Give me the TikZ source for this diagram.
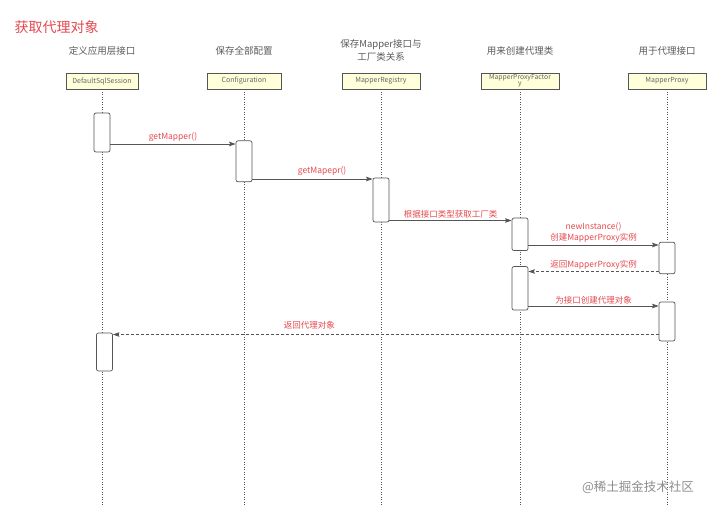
\documentclass[tikz,border=0pt]{standalone}
\usepackage{fontspec}
\setmainfont{Noto Sans CJK SC}
\usetikzlibrary{arrows.meta}
\definecolor{rojo}{HTML}{E4484E}
\definecolor{crema}{HTML}{FFFFDA}
\definecolor{gris}{HTML}{555555}

\begin{document}
\begin{tikzpicture}[x=1pt,y=-1pt,
    cabecera/.style={draw=gris, fill=crema, minimum width=74, minimum height=16, inner sep=0pt, text=black!60, font=\fontsize{7}{7.5}\selectfont},
    rol/.style={text=black!65, font=\fontsize{9.5}{13}\selectfont, align=center},
    activ/.style={draw=gris, fill=white, rounded corners=2pt, line width=0.7pt, minimum width=16, minimum height=#1, inner sep=0pt},
    vida/.style={gris, line width=0.6pt, dash pattern=on 1pt off 1.5pt},
    msg/.style={-{Stealth[length=6.5pt, width=4.5pt, inset=1pt]}, gris, line width=0.7pt},
    ret/.style={msg, dash pattern=on 3pt off 2pt},
    etiqueta/.style={text=rojo, font=\fontsize{8.5}{11}\selectfont, align=center, inner sep=2pt}]
              \useasboundingbox (0,0) rectangle (720,511);

              % Titulo
              \node[anchor=west, text=rojo, font=\fontsize{14}{16}\selectfont] (titulo) at (11,27) {获取代理对象};

              % Roles
              \node[rol] (r1) at (102,51) {定义应用层接口};
              \node[rol] (r2) at (244,51) {保存全部配置};
              \node[rol] (r3) at (381,50.5) {保存Mapper接口与\\工厂类关系};
              \node[rol] (r4) at (520,51) {用来创建代理类};
              \node[rol] (r5) at (667,51) {用于代理接口};

              % Cabeceras
              \node[cabecera, minimum width=72] (dss) at (102,81) {DefaultSqlSession};
              \node[cabecera] (cfg) at (244,81) {Configuration};
              \node[cabecera, minimum width=78] (reg) at (381,81) {MapperRegistry};
              \node[cabecera, minimum width=78, align=center, font=\fontsize{6.8}{6.3}\selectfont] (fac) at (520,81) {MapperProxyFactor\\y};
              \node[cabecera, minimum width=78] (prx) at (667,81) {MapperProxy};

              % Lineas de vida
              \foreach \n in {dss,cfg,reg,fac,prx}
                \draw[vida] (\n.south) -- (\n.south |- 0,505);

              % Activaciones
              \node[activ=39] (a1) at (102,132.5) {};
              \node[activ=41] (a2) at (244,161.3) {};
              \node[activ=44] (a3) at (381,200) {};
              \node[activ=32.5] (a4) at (520,234.3) {};
              \node[activ=31.5] (a5) at (667,258) {};
              \node[activ=43.5] (a6) at (520,288.3) {};
              \node[activ=39] (a7) at (667,321.5) {};
              \node[activ=38] (a8) at (104.5,352) {};

              % Mensajes
              \draw[msg] (a1.east |- 0,144) -- (a2.west |- 0,144) node[etiqueta, midway, above] {getMapper()};
              \draw[msg] (a2.east |- 0,179) -- (a3.west |- 0,179) node[etiqueta, pos=0.58, above, yshift=1pt] {getMapepr()};
              \draw[msg] (a3.east |- 0,220.5) -- (a4.west |- 0,220.5) node[etiqueta, midway, above] {根据接口类型获取工厂类};
              \draw[msg] (a4.east |- 0,245) -- (a5.west |- 0,245) node[etiqueta, midway, above] {newInstance()\\创建MapperProxy实例};
              \draw[ret] (a5.west |- 0,271.5) -- (a6.east |- 0,271.5) node[etiqueta, midway, above] {返回MapperProxy实例};
              \draw[msg] (a6.east |- 0,306) -- (a7.west |- 0,306) node[etiqueta, midway, above, inner sep=1pt] {为接口创建代理对象};
              \draw[ret] (a7.west |- 0,334.5) -- (a8.east |- 0,334.5) node[etiqueta, pos=0.64, above, yshift=3pt] {返回代理对象};

              % Marca
              \node[text=black!45, font=\fontsize{12.5}{14}\selectfont] (marca) at (638,487) {@稀土掘金技术社区};

            \end{tikzpicture}
\end{document}
